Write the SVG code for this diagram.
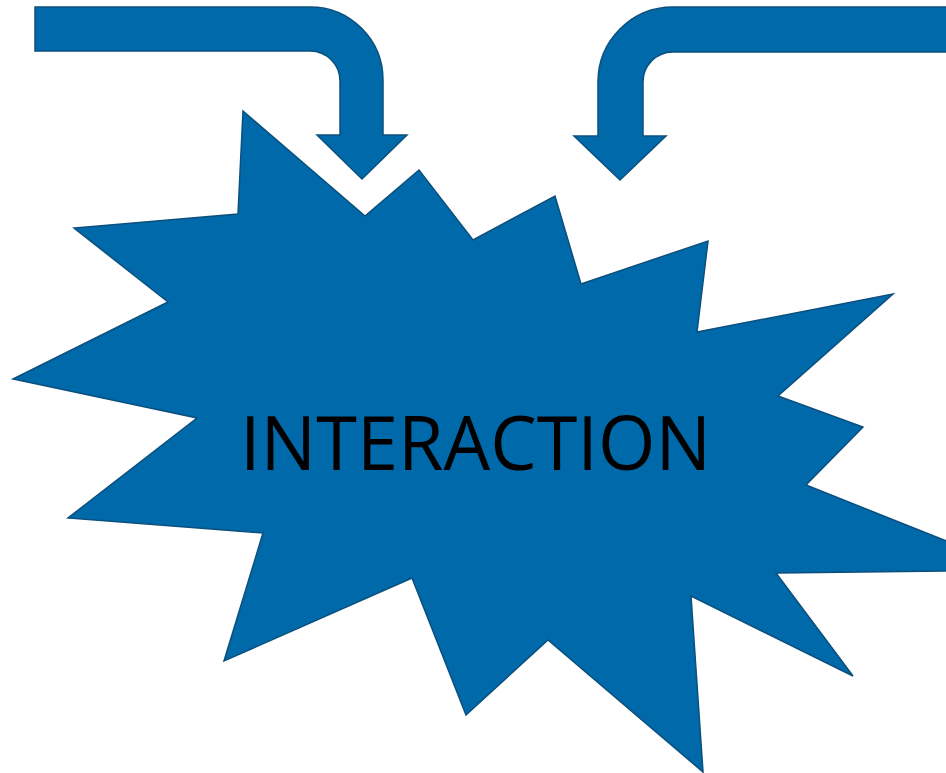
<svg xmlns="http://www.w3.org/2000/svg" width="946" height="773" viewBox="0 0 946 773">
  <style>
    .shape { fill: #0069A9; stroke: #0B4F7D; stroke-width: 1.5; stroke-linejoin: miter; }
    .label { font-family: "Open Sans", "Liberation Sans", Arial, sans-serif; font-size: 75px; fill: #000000; }
  </style>
  <rect width="946" height="773" fill="#ffffff"/>
  <g id="connectors">
    <path class="shape" d="M35,7 H310 A73,73 0 0 1 383,80 V135 H407 L362,179 L317,135 H340 V81 A30,30 0 0 0 310,51 H35 Z"/>
    <path class="shape" d="M960,7 H673 A75,75 0 0 0 598,82 V136 H574 L620,180 L666,136 H643 V82 A30,30 0 0 1 673,52 H960 Z"/>
  </g>
  <g id="interaction">
    <path class="shape" d="M243,111 L365,216 L419,170 L473,240 L555,196 L581,284 L708,241 L697,332 L893,294 L778,396 L863,427 L806,485 L1019,570 L776,573 L853,676 L691,596 L703,772 L548,640 L466,715 L412,578 L224,661 L263,533 L68,518 L197,418 L13,379 L168,302 L74,228 L238,214 Z"/>
    <text class="label" x="240" y="470" textLength="471" lengthAdjust="spacingAndGlyphs">INTERACTION</text>
  </g>
</svg>
